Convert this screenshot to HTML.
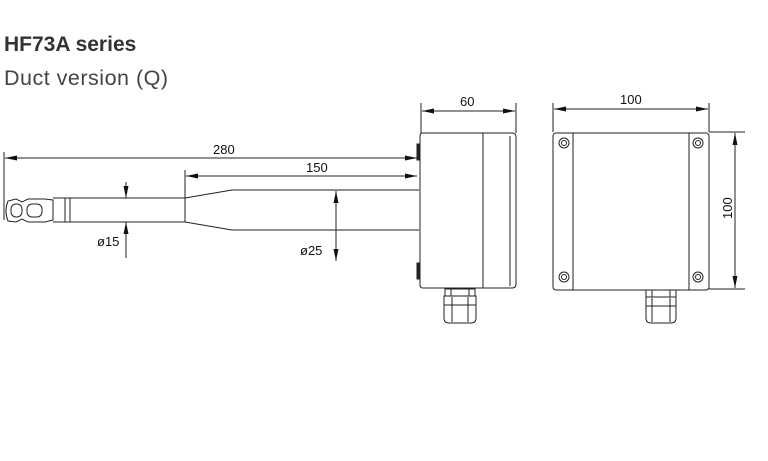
<!DOCTYPE html>
<html><head><style>
body{margin:0;background:#fff;width:768px;height:461px;overflow:hidden}
svg{display:block}
</style></head><body>
<svg width="768" height="461" viewBox="0 0 768 461" xmlns="http://www.w3.org/2000/svg" font-family="Liberation Sans, sans-serif">
<defs>
<marker id="a" viewBox="0 0 12 5" refX="12" refY="2.5" markerWidth="12" markerHeight="5" orient="auto-start-reverse" markerUnits="userSpaceOnUse"><path d="M0,0 L12,2.5 L0,5z" fill="#111"/></marker>
</defs>
<text x="4" y="51" font-size="21" font-weight="bold" fill="#333">HF73A series</text>
<text x="4" y="85" font-size="21.5" fill="#444" letter-spacing="0.5">Duct version (Q)</text>
<g stroke="#222" stroke-width="1" fill="none">
<line x1="4" y1="152" x2="4" y2="220"/>
<line x1="5" y1="158" x2="417" y2="158" marker-start="url(#a)" marker-end="url(#a)"/>
<line x1="185" y1="170" x2="185" y2="222"/>
<line x1="186" y1="176" x2="417" y2="176" marker-start="url(#a)" marker-end="url(#a)"/>
<line x1="126" y1="182" x2="126" y2="198" marker-end="url(#a)"/>
<line x1="126" y1="258" x2="126" y2="222" marker-end="url(#a)"/>
<line x1="336" y1="191" x2="336" y2="261" marker-start="url(#a)" marker-end="url(#a)"/>
<path d="M8,201 Q4,211 8,221 L16,222 L22,219 L28,222 L45,222 L53,220 L53,200 L45,199 L28,199 L22,202 L16,199z"/>
<rect x="11" y="204" width="11" height="13" rx="5"/>
<rect x="27" y="204" width="15" height="13" rx="5"/>
<path d="M53,198 H185 V222 H53"/>
<line x1="65" y1="198" x2="65" y2="222"/><line x1="70" y1="198" x2="70" y2="222"/>
<path d="M185,198 L232,190 H419 M185,222 L232,230 H419"/>
<line x1="421" y1="103" x2="421" y2="133"/><line x1="516" y1="103" x2="516" y2="133"/>
<line x1="422" y1="111" x2="515" y2="111" marker-start="url(#a)" marker-end="url(#a)"/>
<path d="M423,133 H512 Q516,133 516,137 V284 Q516,288 512,288 H423 Q420,288 420,285 V136 Q420,133 423,133z"/>
<line x1="483" y1="133" x2="483" y2="288"/>
<line x1="510" y1="136" x2="510" y2="286"/>
<rect x="417" y="144" width="3" height="16" fill="#222"/>
<rect x="417" y="263" width="3" height="16" fill="#222"/>
<rect x="445" y="289" width="30" height="7"/>
<line x1="451" y1="289" x2="451" y2="296"/><line x1="469" y1="289" x2="469" y2="296"/>
<path d="M444,296 H476 V318 Q476,323 471,323 H449 Q444,323 444,318z"/>
<line x1="452" y1="297" x2="452" y2="322"/><line x1="468" y1="297" x2="468" y2="322"/>
<line x1="444" y1="305" x2="476" y2="305"/>
<line x1="553" y1="103" x2="553" y2="132"/><line x1="709" y1="103" x2="709" y2="132"/>
<line x1="554" y1="109" x2="708" y2="109" marker-start="url(#a)" marker-end="url(#a)"/>
<rect x="553" y="133" width="156" height="157" rx="3"/>
<line x1="573" y1="133" x2="573" y2="290"/><line x1="689" y1="133" x2="689" y2="290"/>
<line x1="709" y1="132" x2="745" y2="132"/><line x1="709" y1="289" x2="745" y2="289"/>
<line x1="735" y1="133" x2="735" y2="288" marker-start="url(#a)" marker-end="url(#a)"/>
<g>
<circle cx="564" cy="143" r="5"/><circle cx="564" cy="143" r="2.5"/>
<circle cx="698" cy="143" r="5"/><circle cx="698" cy="143" r="2.5"/>
<circle cx="564" cy="277" r="5"/><circle cx="564" cy="277" r="2.5"/>
<circle cx="698" cy="277" r="5"/><circle cx="698" cy="277" r="2.5"/>
</g>
<rect x="646" y="290" width="30" height="7"/>
<line x1="652" y1="290" x2="652" y2="297"/><line x1="670" y1="290" x2="670" y2="297"/>
<path d="M646,297 H676 V318 Q676,323 671,323 H651 Q646,323 646,318z"/>
<line x1="652" y1="298" x2="652" y2="322"/><line x1="670" y1="298" x2="670" y2="322"/>
<line x1="646" y1="306" x2="676" y2="306"/>
</g>
<g font-size="13" fill="#111">
<text x="213" y="154">280</text>
<text x="306" y="172">150</text>
<text x="460" y="106">60</text>
<text x="620" y="104">100</text>
<text x="97" y="246">ø15</text>
<text x="300" y="255">ø25</text>
<text transform="translate(732,219) rotate(-90)">100</text>
</g>
</svg>
</body></html>
